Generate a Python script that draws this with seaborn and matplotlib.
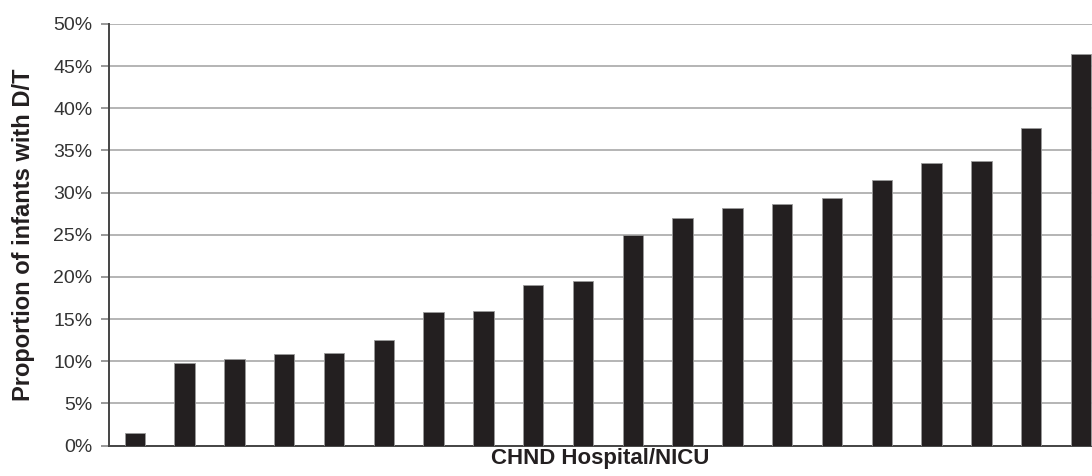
import matplotlib
matplotlib.use("Agg")
import matplotlib.pyplot as plt
import numpy as np
import pandas as pd
import seaborn as sns
from matplotlib.ticker import PercentFormatter

# proportion of infants with D/T per hospital (%), sorted ascending
hospitals = [f"H{i}" for i in range(1, 21)]
proportions = [1.5, 9.8, 10.3, 10.8, 11.0, 12.5, 15.8, 16.0, 19.0, 19.5,
               25.0, 27.0, 28.2, 28.7, 29.4, 31.5, 33.5, 33.7, 37.7, 46.4]
y_ticks = [0, 5, 10, 15, 20, 25, 30, 35, 40, 45, 50]

df = pd.DataFrame({"hospital": hospitals, "proportion": proportions})

sns.set_theme(style="white")
plt.rcParams['font.family'] = ['Liberation Sans', 'DejaVu Sans']

fig = plt.figure(figsize=(10.92, 4.76), dpi=100)
ax = fig.add_axes([0.0998, 0.064, 0.9002, 0.8856])

sns.barplot(data=df, x="hospital", y="proportion", order=hospitals,
            color="#231f20", width=0.41, edgecolor="#9a9a9a", linewidth=0.6,
            saturation=1, ax=ax, zorder=3)

ax.set_ylim(0, 50)
ax.set_xlim(-0.52, 19.22)
ax.set_yticks(y_ticks)
ax.yaxis.set_major_formatter(PercentFormatter(decimals=0))
ax.set_xticks([])
ax.grid(axis='y', color="#a8a8a8", linewidth=1.2, zorder=0)
ax.set_axisbelow(True)

for side in ['top', 'right']:
    ax.spines[side].set_visible(False)
ax.spines['left'].set_color("#444444")
ax.spines['left'].set_linewidth(1.4)
ax.spines['bottom'].set_color("#444444")
ax.spines['bottom'].set_linewidth(1.4)

ax.tick_params(axis='y', which='both', left=True, length=6, width=1.2,
               color="#888888", labelsize=14, labelcolor="#333333", pad=6)

ax.set_ylabel("Proportion of infants with D/T", fontsize=17, fontweight='bold',
              color="#231f20", labelpad=13)
ax.set_xlabel("CHND Hospital/NICU", fontsize=16, fontweight='bold',
              color="#231f20", labelpad=2)

fig.savefig("out.png", dpi=100)
